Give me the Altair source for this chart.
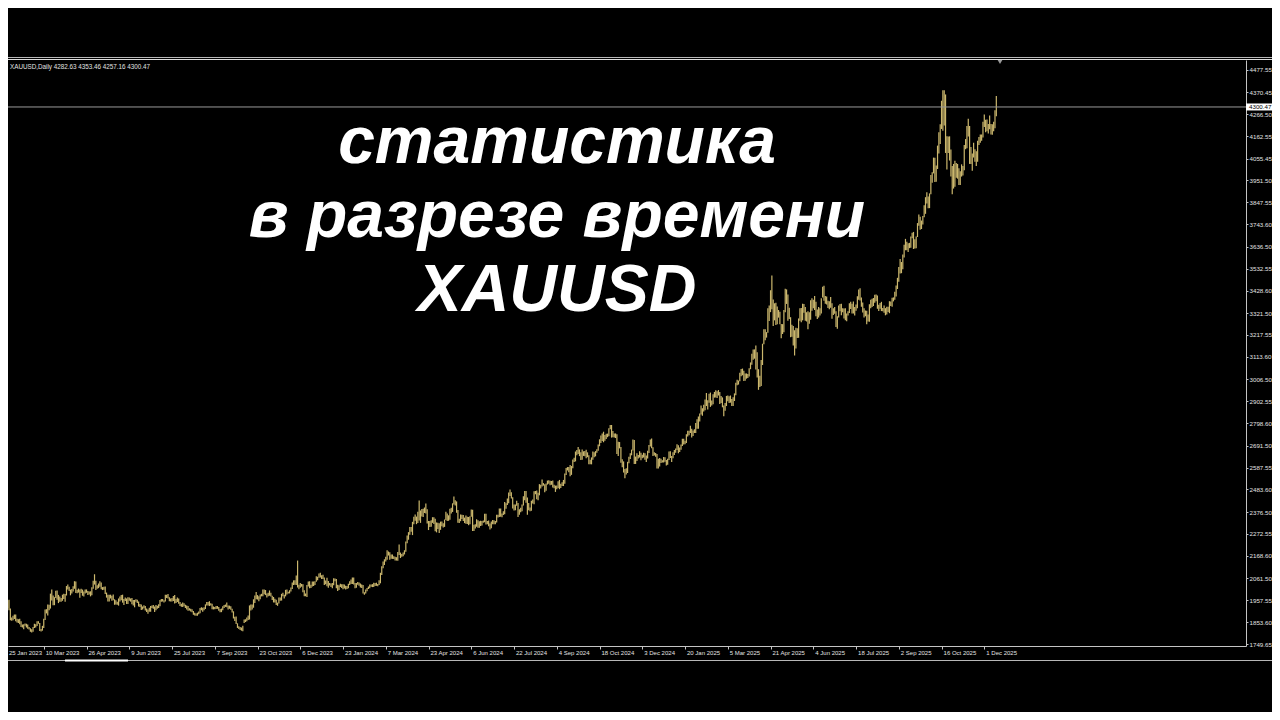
import altair as alt
import pandas as pd

# Daily XAUUSD bars (low, high), one entry per trading day
bars_2023 = [
    # Jan 25-31
    (1932,1949),(1918,1949),(1922,1938),(1916,1934),(1900,1932),
    # Feb
    (1920,1958),(1910,1960),(1862,1918),(1860,1875),(1862,1884),(1868,1890),(1858,1890),(1852,1870),(1849,1867),(1843,1870),
    (1830,1858),(1828,1842),(1820,1844),(1836,1847),(1828,1846),(1822,1842),(1818,1830),(1808,1825),(1804,1820),(1808,1830),
    # Mar
    (1826,1846),(1828,1843),(1835,1858),(1846,1858),(1812,1850),(1809,1821),(1813,1836),(1826,1870),(1864,1913),(1895,1915),
    (1885,1937),(1910,1936),(1918,1989),(1956,2009),(1934,1980),(1934,1972),(1968,2003),(1960,2004),(1944,1983),(1950,1975),
    (1950,1968),(1955,1984),(1964,1988),
    # Apr
    (1950,1987),(1980,2025),(2009,2032),(2002,2022),(1981,2008),(1990,2011),(1999,2024),(2012,2048),(1992,2047),(1991,2007),
    (1994,2013),(1969,2008),(1992,2012),(1979,2008),(1975,1999),(1989,2009),(1993,2009),(1983,2002),(1985,1999),
    # May
    (1976,2000),(1981,2019),(2012,2050),(2032,2081),(2006,2050),(2012,2029),(2015,2037),(2022,2048),(2010,2042),(2006,2020),
    (2007,2022),(1987,2023),(1970,1994),(1952,1984),(1952,1984),(1966,1984),(1955,1979),(1957,1985),(1936,1962),(1937,1957),
    (1936,1950),(1932,1966),(1952,1975),
    # Jun
    (1958,1983),(1946,1984),(1935,1964),(1954,1970),(1940,1966),(1940,1972),(1955,1970),(1951,1966),(1939,1968),(1933,1959),
    (1924,1959),(1950,1962),(1945,1960),(1928,1952),(1925,1940),(1911,1937),(1913,1928),(1920,1934),(1909,1930),(1902,1918),
    (1893,1913),(1903,1922),
    # Jul
    (1903,1930),(1921,1932),(1917,1935),(1902,1928),(1910,1935),(1917,1931),(1921,1939),(1929,1959),(1950,1963),(1952,1964),
    (1947,1958),(1952,1984),(1968,1984),(1966,1987),(1953,1972),(1951,1966),(1951,1968),(1954,1978),(1942,1982),(1944,1963),
    (1949,1971),
    # Aug
    (1941,1966),(1930,1949),(1927,1941),(1925,1947),(1929,1943),(1921,1936),(1914,1933),(1908,1930),(1909,1920),(1904,1917),
    (1900,1915),(1889,1906),(1885,1898),(1884,1895),(1884,1898),(1891,1904),(1896,1921),(1910,1924),(1903,1922),(1910,1924),
    (1916,1938),(1933,1949),(1932,1949),
    # Sep
    (1930,1953),(1932,1943),(1915,1941),(1914,1928),(1915,1925),(1916,1930),(1917,1930),(1908,1926),(1901,1916),(1901,1918),
    (1910,1929),(1921,1935),(1926,1937),(1924,1947),(1913,1932),(1917,1932),(1912,1929),(1899,1917),(1871,1905),(1859,1879),
    (1845,1880),
    # Oct
    (1826,1848),(1821,1834),(1816,1830),(1813,1828),(1810,1836),(1850,1866),(1854,1867),(1858,1876),(1864,1885),(1866,1933),
    (1909,1937),(1913,1937),(1922,1962),(1944,1980),(1962,1997),(1961,1982),(1953,1976),(1962,1985),(1976,1988),(1976,2009),
    (1986,2008),(1982,2006),
    # Nov
    (1970,1989),(1976,1993),(1979,2004),(1975,1993),(1959,1979),(1947,1973),(1947,1965),(1935,1960),(1931,1946),(1942,1971),
    (1955,1971),(1956,1988),(1977,1993),(1966,1984),(1976,2007),(1985,2008),(1989,1998),(1990,2005),(1999,2018),(2011,2042),
    (2030,2052),(2031,2052),
    # Dec
    (2030,2075),(2018,2146),(2010,2031),(2017,2040),(2022,2035),(1995,2034),(1977,2005),(1976,1990),(1973,2030),(2023,2047),
    (2015,2048),(2016,2031),(2023,2046),(2025,2047),(2030,2048),(2045,2071),(2052,2069),(2064,2084),(2065,2088),(2058,2076),
]

bars_2024 = [
    # Jan
    (2058,2079),(2030,2065),(2034,2051),(2024,2064),(2017,2049),(2028,2040),(2021,2037),(2014,2040),(2029,2062),(2048,2061),
    (2014,2058),(2002,2031),(2006,2029),(2021,2036),(2016,2033),(2010,2033),(2013,2032),(2009,2026),(2011,2025),(2015,2036),
    (2030,2048),(2035,2056),
    # Feb
    (2035,2065),(2032,2065),(2014,2040),(2017,2040),(2031,2044),(2026,2042),(2018,2037),(2016,2032),(1990,2030),(1984,1996),
    (1989,2008),(2000,2016),(2011,2023),(2015,2032),(2022,2032),(2020,2034),(2020,2041),(2025,2040),(2026,2041),(2024,2035),
    (2030,2052),
    # Mar
    (2038,2088),(2078,2119),(2110,2141),(2125,2152),(2141,2164),(2150,2195),(2170,2189),(2150,2185),(2155,2175),(2154,2175),
    (2153,2167),(2146,2164),(2146,2162),(2145,2187),(2172,2222),(2158,2184),(2164,2177),(2167,2184),(2175,2195),(2188,2236),
    # Apr
    (2228,2265),(2245,2281),(2269,2305),(2283,2305),(2267,2330),(2318,2354),(2335,2365),(2319,2355),(2325,2378),(2336,2431),
    (2325,2384),(2355,2391),(2353,2392),(2372,2398),(2370,2417),(2322,2390),(2291,2334),(2306,2334),(2307,2338),(2325,2352),
    (2320,2352),(2285,2345),
    # May
    (2280,2327),(2296,2326),(2277,2323),(2292,2331),(2309,2332),(2303,2323),(2306,2341),(2339,2378),(2334,2370),(2335,2361),
    (2340,2392),(2370,2397),(2377,2418),(2412,2450),(2408,2433),(2373,2427),(2326,2386),(2325,2345),(2333,2365),(2343,2364),
    (2334,2363),(2324,2350),(2321,2360),
    # Jun
    (2320,2354),(2314,2353),(2318,2356),(2354,2388),(2287,2387),(2287,2316),(2298,2318),(2307,2342),(2302,2338),(2302,2333),
    (2310,2335),(2312,2334),(2326,2336),(2328,2368),(2317,2368),(2318,2334),(2309,2336),(2293,2322),(2299,2331),(2319,2339),
    # Jul
    (2318,2338),(2318,2334),(2327,2364),(2351,2364),(2353,2393),(2354,2393),(2352,2370),(2362,2380),(2366,2424),(2392,2418),
    (2410,2441),(2418,2469),(2453,2483),(2441,2470),(2393,2447),(2384,2412),(2385,2412),(2406,2430),(2353,2420),(2364,2390),
    (2376,2397),(2380,2412),(2407,2451),
    # Aug
    (2432,2477),(2421,2477),(2364,2446),(2385,2420),(2380,2398),(2383,2430),(2417,2436),(2414,2475),(2461,2477),(2437,2479),
    (2432,2468),(2456,2509),(2488,2506),(2498,2531),(2502,2514),(2470,2509),(2478,2512),(2507,2526),(2511,2528),(2504,2525),
    (2506,2524),(2493,2526),
    # Sep
    (2490,2506),(2472,2502),(2485,2503),(2491,2523),(2485,2529),(2491,2511),(2500,2518),(2500,2529),(2511,2560),(2553,2586),
    (2574,2590),(2566,2590),(2546,2600),(2553,2595),(2585,2626),(2614,2634),(2617,2664),(2646,2671),(2652,2685),(2642,2674),
    (2624,2660),
    # Oct
    (2625,2673),(2643,2665),(2641,2667),(2632,2672),(2637,2660),(2603,2646),(2604,2625),(2603,2636),(2625,2664),(2637,2660),
    (2641,2666),(2658,2675),(2668,2697),(2689,2722),(2704,2740),(2714,2749),(2708,2758),(2715,2743),(2724,2748),(2732,2749),
    (2737,2774),(2770,2790),(2730,2790),
    # Nov
    (2732,2761),(2730,2750),(2728,2750),(2652,2746),(2643,2710),(2679,2709),(2611,2686),(2589,2627),(2564,2617),(2537,2581),
    (2555,2585),(2562,2615),(2608,2639),(2628,2656),(2646,2673),(2669,2721),(2605,2719),(2605,2640),(2619,2656),(2631,2647),
    (2636,2665),
    # Dec
    (2622,2658),(2632,2649),(2635,2658),(2625,2656),(2614,2645),(2631,2668),(2657,2695),(2688,2721),(2679,2726),(2643,2684),
    (2645,2661),(2639,2657),(2583,2652),(2583,2630),(2593,2633),(2609,2630),(2612,2622),(2612,2638),(2615,2637),(2597,2624),
    (2601,2630),
]

bars_2025 = [
    # Jan
    (2624,2664),(2633,2665),(2614,2643),(2632,2660),(2648,2671),(2658,2678),(2671,2698),(2656,2694),(2662,2683),(2672,2697),
    (2690,2725),(2697,2725),(2699,2715),(2705,2746),(2735,2763),(2741,2763),(2752,2786),(2730,2772),(2738,2764),(2752,2770),
    (2752,2799),(2772,2817),
    # Feb
    (2772,2830),(2806,2845),(2840,2882),(2834,2870),(2854,2886),(2860,2911),(2880,2942),(2864,2908),(2896,2938),(2876,2944),
    (2882,2906),(2889,2936),(2920,2947),(2921,2955),(2918,2950),(2930,2956),(2890,2947),(2895,2928),(2874,2921),(2832,2883),
    # Mar
    (2858,2895),(2880,2928),(2903,2930),(2894,2927),(2896,2930),(2880,2914),(2880,2922),(2904,2940),(2931,2990),(2979,3005),
    (2982,3001),(2998,3038),(3021,3056),(3026,3058),(2999,3047),(3000,3035),(3010,3035),(3013,3032),(3020,3060),(3055,3087),
    (3076,3128),
    # Apr
    (3100,3149),(3105,3149),(3054,3167),(3015,3136),(2957,3055),(2970,3024),(2975,3099),(3075,3176),(3173,3245),(3193,3245),
    (3205,3231),(3228,3345),(3284,3357),(3326,3430),(3340,3500),(3260,3386),(3287,3368),(3265,3370),(3268,3353),(3300,3336),
    (3268,3328),
    # May
    (3202,3270),(3222,3269),(3230,3336),(3325,3437),(3365,3434),(3285,3410),(3293,3347),(3207,3302),(3209,3266),(3168,3260),
    (3120,3240),(3153,3252),(3203,3250),(3204,3296),(3285,3345),(3278,3346),(3287,3366),(3323,3365),(3285,3350),(3282,3325),
    (3245,3330),(3271,3326),
    # Jun
    (3290,3382),(3333,3392),(3345,3385),(3336,3403),(3306,3375),(3293,3338),(3300,3350),(3310,3345),(3320,3392),(3395,3446),
    (3380,3451),(3366,3403),(3362,3400),(3346,3380),(3340,3378),(3347,3398),(3295,3368),(3312,3345),(3318,3350),(3255,3330),
    (3247,3307),
    # Jul
    (3300,3358),(3330,3365),(3311,3366),(3325,3345),(3296,3343),(3287,3345),(3283,3320),(3310,3330),(3322,3368),(3341,3375),
    (3320,3366),(3320,3377),(3310,3350),(3333,3362),(3345,3402),(3385,3433),(3381,3439),(3351,3396),(3324,3372),(3301,3345),
    (3307,3334),(3268,3333),(3281,3315),
    # Aug
    (3280,3363),(3345,3385),(3350,3390),(3355,3393),(3370,3409),(3378,3410),(3342,3405),(3331,3361),(3342,3369),(3331,3375),
    (3330,3346),(3323,3358),(3311,3345),(3315,3351),(3327,3351),(3321,3378),(3355,3376),(3351,3394),(3377,3396),(3385,3423),
    (3400,3453),
    # Sep
    (3436,3489),(3470,3540),(3510,3578),(3511,3564),(3530,3600),(3585,3646),(3620,3674),(3620,3660),(3612,3653),(3630,3655),
    (3632,3685),(3677,3703),(3626,3707),(3628,3672),(3630,3685),(3683,3749),(3736,3790),(3717,3779),(3721,3761),(3742,3783),
    (3777,3834),(3793,3872),
    # Oct
    (3842,3895),(3819,3875),(3820,3890),(3886,3977),(3940,3990),(3985,4060),(3944,4059),(3945,4022),(4006,4117),(4080,4180),
    (4125,4218),(4196,4330),(4188,4380),(4212,4380),(4082,4360),(4004,4161),(4082,4160),(4046,4161),(3970,4098),(3886,4020),
    (3913,4030),(3922,4045),(3964,4034),
    # Nov
    (3960,4030),(3930,4010),(3930,3995),(3970,4028),(3975,4020),(4000,4120),(4100,4148),(4105,4210),(4160,4245),(4030,4210),
    (4030,4110),(3998,4080),(4060,4130),(4040,4100),(4020,4090),(4040,4140),(4120,4158),(4130,4170),(4140,4170),(4155,4230),
    # Dec 1-12
    (4205,4265),(4180,4240),(4185,4241),(4175,4220),(4195,4260),(4170,4220),(4168,4218),(4185,4230),(4200,4285),(4257,4353),
]

price_ticks = [4477.55, 4370.45, 4266.50, 4162.55, 4055.45, 3951.50, 3847.55, 3743.60, 3636.50,
               3532.55, 3428.60, 3321.50, 3217.55, 3113.60, 3006.50, 2902.55, 2798.60, 2691.50,
               2587.55, 2483.60, 2376.50, 2272.55, 2168.60, 2061.50, 1957.55, 1853.60, 1749.65]
date_labels = ["25 Jan 2023", "10 Mar 2023", "26 Apr 2023", "9 Jun 2023", "25 Jul 2023", "7 Sep 2023",
               "23 Oct 2023", "6 Dec 2023", "23 Jan 2024", "7 Mar 2024", "23 Apr 2024", "6 Jun 2024",
               "22 Jul 2024", "4 Sep 2024", "18 Oct 2024", "3 Dec 2024", "20 Jan 2025", "5 Mar 2025",
               "21 Apr 2025", "4 Jun 2025", "18 Jul 2025", "2 Sep 2025", "16 Oct 2025", "1 Dec 2025"]
date_label_bars = [0, 32, 64, 96, 128, 160, 192, 224, 256, 288, 320, 352,
                   384, 416, 448, 480, 512, 544, 576, 608, 640, 672, 704, 736]
last_ohlc = [4282.63, 4353.46, 4257.16, 4300.47]
symbol = "XAUUSD,Daily"
title_lines = ["статистика", "в разрезе времени", "XAUUSD"]

# ---------------------------------------------------------------------------
all_bars = bars_2023 + bars_2024 + bars_2025
bars_df = pd.DataFrame({
    "i": list(range(len(all_bars))),
    "low": [b[0] for b in all_bars],
    "high": [b[1] for b in all_bars],
})

W, H = 1238, 586
TOTAL_W = 1264
GOLD = "#cbb76d"
AX = "#c4c4c4"
TXT = "#e2e2e2"
FONT = "Liberation Sans"
PX_PER_BAR = 1.336
X0 = 5.24

xs = alt.Scale(domain=[X0, X0 + W / PX_PER_BAR], nice=False, zero=False)
ys = alt.Scale(domain=[1740.2, 4523.6], nice=False, zero=False)

xaxis = alt.Axis(orient="bottom", values=date_label_bars, labels=False, tickSize=3, title=None,
                 tickColor=AX, domainColor=AX, grid=False, domainWidth=1)
yaxis = alt.Axis(orient="right", values=price_ticks, format=".2f", tickSize=2, title=None,
                 tickColor=AX, domainColor=AX, grid=False, labelPadding=1,
                 labelFont=FONT, labelFontSize=6.2, labelColor=TXT,
                 labelOverlap=False, labelFlush=False)

bars = alt.Chart(bars_df).mark_rule(color=GOLD, strokeWidth=1.2, clip=True).encode(
    x=alt.X("i:Q", scale=xs, axis=xaxis),
    y=alt.Y("low:Q", scale=ys, axis=yaxis),
    y2="high:Q",
)

price_df = pd.DataFrame({"p": [last_ohlc[3]], "t": [f"{last_ohlc[3]:.2f}"]})
price_line = alt.Chart(price_df).mark_rule(color="#9a9a9a", strokeWidth=1).encode(
    y=alt.Y("p:Q", scale=ys, axis=yaxis), x=alt.value(0), x2=alt.value(W))
price_box = alt.Chart(price_df).mark_tick(orient="horizontal", size=28, thickness=7, color="#ffffff",
                                          opacity=1).encode(
    y=alt.Y("p:Q", scale=ys, axis=yaxis), x=alt.value(W + 14))
price_txt = alt.Chart(price_df).mark_text(align="left", baseline="middle", font=FONT, fontSize=6.2,
                                          color="#000000").encode(
    y=alt.Y("p:Q", scale=ys, axis=yaxis), x=alt.value(W + 3), text="t:N")

dates_df = pd.DataFrame({"i": date_label_bars[1:], "label": date_labels[1:]})
date_txt = alt.Chart(dates_df).mark_text(align="left", baseline="top", dx=2, font=FONT, fontSize=6.0,
                                         color=TXT).encode(
    x=alt.X("i:Q", scale=xs, axis=xaxis), y=alt.value(H + 4), text="label:N")
first_df = pd.DataFrame({"label": date_labels[:1]})
first_date = alt.Chart(first_df).mark_text(align="left", baseline="top", font=FONT, fontSize=6.0,
                                           color=TXT).encode(
    x=alt.value(1), y=alt.value(H + 4), text="label:N")

header_df = pd.DataFrame({"t": [symbol + "  " + " ".join(f"{v:.2f}" for v in last_ohlc)]})
header = alt.Chart(header_df).mark_text(align="left", baseline="middle", font=FONT, fontSize=6.3,
                                        color=TXT).encode(x=alt.value(2), y=alt.value(7), text="t:N")

one = pd.DataFrame({"k": [0]})
shift_mark = alt.Chart(one).mark_point(shape="triangle-down", filled=True, size=22, color="#9c9c9c",
                                       opacity=1).encode(x=alt.value(992), y=alt.value(2))
top_line1 = alt.Chart(one).mark_rule(color="#b8b8b8", strokeWidth=1).encode(
    x=alt.value(0), x2=alt.value(TOTAL_W), y=alt.value(-2.5))
top_line2 = alt.Chart(one).mark_rule(color="#dcdcdc", strokeWidth=1).encode(
    x=alt.value(0), x2=alt.value(TOTAL_W), y=alt.value(-0.5))
bottom_line = alt.Chart(one).mark_rule(color="#b8b8b8", strokeWidth=1).encode(
    x=alt.value(0), x2=alt.value(TOTAL_W), y=alt.value(H + 14.5))
scroll_thumb = alt.Chart(one).mark_rule(color="#ffffff", strokeWidth=2).encode(
    x=alt.value(57), x2=alt.value(120), y=alt.value(H + 14.5))

title_layers = []
for line, base_y in zip(title_lines, [103, 177, 251]):
    tdf = pd.DataFrame({"t": [line]})
    title_layers.append(
        alt.Chart(tdf).mark_text(align="center", baseline="alphabetic", font=FONT, fontSize=66,
                                 fontWeight="bold", fontStyle="italic", color="#ffffff").encode(
            x=alt.value(549), y=alt.value(base_y), text="t:N"))

chart = alt.layer(
    bars, price_line, price_box, price_txt, date_txt, first_date, header, shift_mark,
    top_line1, top_line2, bottom_line, scroll_thumb, *title_layers
).properties(
    width=W, height=H,
    autosize=alt.AutoSizeParams(type="none"),
    padding={"left": 0, "top": 52, "right": TOTAL_W - W, "bottom": 66},
    background="#000000",
).configure_view(stroke=None)

chart.save("out.html", embed_options={"renderer": "svg", "actions": False})
